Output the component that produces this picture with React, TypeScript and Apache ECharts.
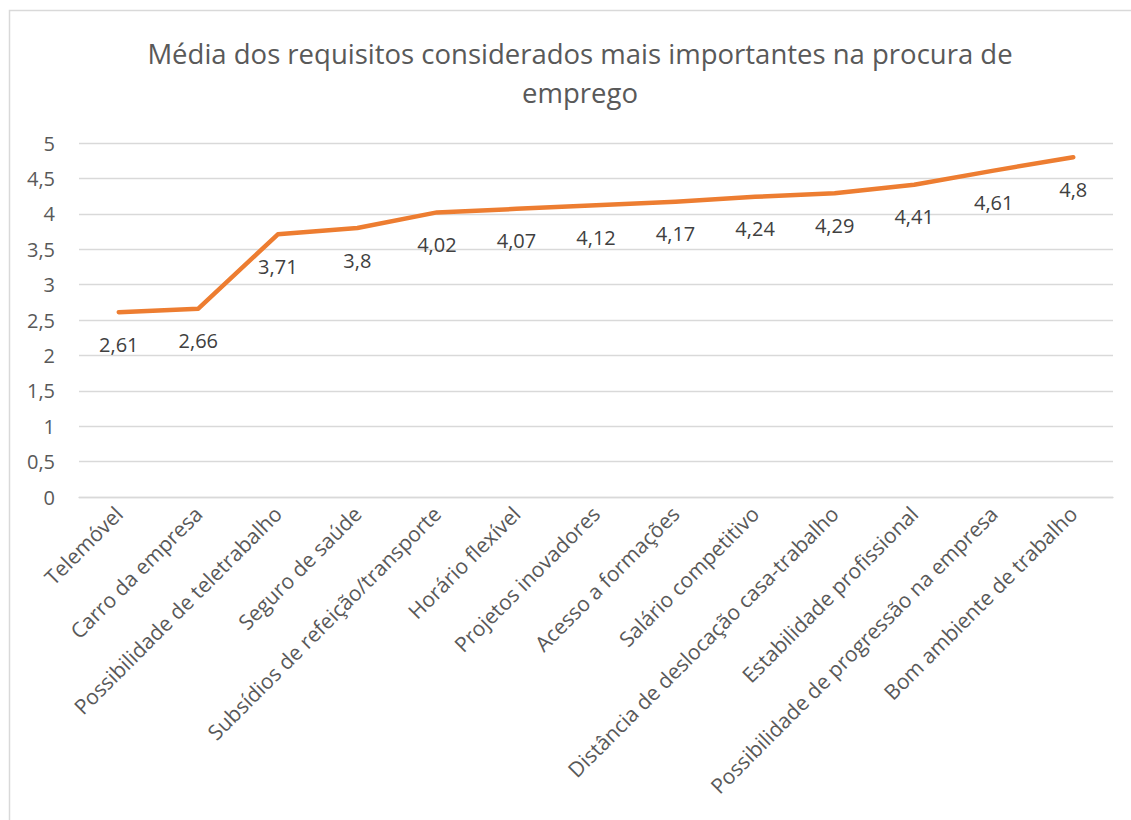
import React, { useEffect, useRef } from "react";
import * as echarts from "echarts";

const titleText = "Média dos requisitos considerados mais importantes na procura de\nemprego";
const categories = [
  "Telemóvel",
  "Carro da empresa",
  "Possibilidade de teletrabalho",
  "Seguro de saúde",
  "Subsídios de refeição/transporte",
  "Horário flexível",
  "Projetos inovadores",
  "Acesso a formações",
  "Salário competitivo",
  "Distância de deslocação casa-trabalho",
  "Estabilidade profissional",
  "Possibilidade de progressão na empresa",
  "Bom ambiente de trabalho",
];
const values = [2.61, 2.66, 3.71, 3.8, 4.02, 4.07, 4.12, 4.17, 4.24, 4.29, 4.41, 4.61, 4.8];

const fmt = (v: number) => String(v).replace(".", ",");
const FONT = "'Open Sans', sans-serif";

export default function App() {
  const ref = useRef<HTMLDivElement>(null);
  useEffect(() => {
    if (!ref.current) return;
    const chart = echarts.init(ref.current, undefined, { renderer: "svg" });
    chart.setOption({
      animation: false,
      backgroundColor: "#ffffff",
      textStyle: { fontFamily: FONT },
      title: {
        text: titleText,
        left: 575,
        top: 29,
        textAlign: "center",
        textStyle: {
          fontFamily: FONT,
          fontSize: 27.5,
          fontWeight: "normal",
          color: "#595959",
          lineHeight: 39,
        },
      },
      graphic: [
        {
          type: "rect",
          shape: { x: 9.5, y: 10.5, width: 1140, height: 830 },
          style: { fill: "none", stroke: "#d9d9d9", lineWidth: 1.5 },
          silent: true,
        },
      ],
      grid: { left: 79, right: 18, top: 143, bottom: 323, containLabel: false },
      xAxis: {
        type: "category",
        data: categories,
        boundaryGap: true,
        axisLine: { show: true, lineStyle: { color: "#d9d9d9", width: 1.3 } },
        axisTick: { show: false },
        axisLabel: {
          rotate: 45,
          interval: 0,
          margin: 13,
          fontFamily: FONT,
          fontSize: 21,
          color: "#595959",
        },
      },
      yAxis: {
        type: "value",
        min: 0,
        max: 5,
        interval: 0.5,
        axisLine: { show: false },
        axisTick: { show: false },
        splitLine: { lineStyle: { color: "#d9d9d9", width: 1.3 } },
        axisLabel: {
          margin: 24,
          fontFamily: FONT,
          fontSize: 20,
          color: "#595959",
          formatter: (v: number) => fmt(v),
        },
      },
      series: [
        {
          type: "line",
          data: values,
          symbol: "circle",
          symbolSize: 0.1,
          showSymbol: true,
          lineStyle: { color: "#ED7D31", width: 4.5, cap: "round", join: "round" },
          itemStyle: { color: "rgba(237,125,49,0)" },
          label: {
            show: true,
            position: "bottom",
            distance: 22,
            fontFamily: FONT,
            fontSize: 20,
            color: "#404040",
            formatter: (p: any) => fmt(p.value),
          },
        },
      ],
    });
    return () => chart.dispose();
  }, []);
  return (
    <div
      ref={ref}
      style={{ position: "absolute", left: 0, top: 0, width: 1131, height: 820 }}
    />
  );
}
